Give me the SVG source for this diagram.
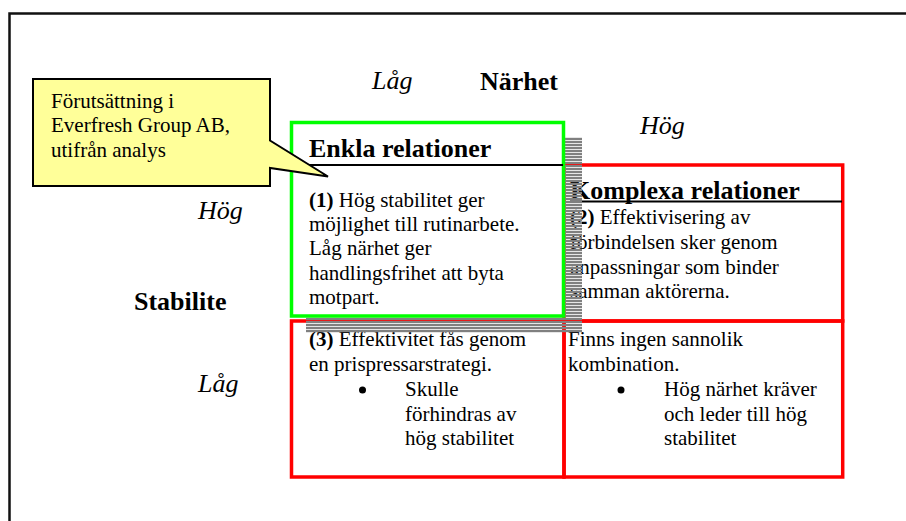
<svg xmlns="http://www.w3.org/2000/svg" width="906" height="521" viewBox="0 0 906 521">
<defs>
<pattern id="stripes" width="4" height="3" patternUnits="userSpaceOnUse"><rect x="0" y="0" width="4" height="2.2" fill="#808080"/></pattern>
<style>
text{font-family:"Liberation Serif","Times New Roman",serif;fill:#000}
.b{font-size:21px}
.h{font-size:26px;font-weight:bold}
.ax{font-size:26px;font-style:italic}
.bold{font-weight:bold}
.red{fill:none;stroke:#ff0000;stroke-width:3.5}
.rule{stroke:#000;stroke-width:1.8}
</style>
</defs>
<rect width="906" height="521" fill="#fff"/>
<g id="frame"><rect x="9.5" y="13.5" width="930" height="540" fill="none" stroke="#111" stroke-width="2.5"/></g>

<g id="axis-labels">
<text class="ax" x="372" y="89">Låg</text>
<text class="h" x="480" y="90">Närhet</text>
<text class="ax" x="640" y="134">Hög</text>
<text class="ax" x="198" y="219">Hög</text>
<text class="h" x="134" y="310">Stabilite</text>
<text class="ax" x="198" y="392">Låg</text>
</g>

<g id="grid">
<rect class="red" x="564" y="165" width="278.7" height="156"/>
<rect class="red" x="291.5" y="321" width="272.5" height="156"/>
<rect class="red" x="564" y="321" width="278.7" height="156"/>
</g>

<g id="cell-complex">
<text class="h" x="570" y="199">Komplexa relationer</text>
<line class="rule" x1="570" y1="201.5" x2="842" y2="201.5"/>
<text class="b" x="570" y="224"><tspan class="bold">(2)</tspan> Effektivisering av</text>
<text class="b" x="570" y="249">förbindelsen sker genom</text>
<text class="b" x="570" y="273.5">anpassningar som binder</text>
<text class="b" x="570" y="298">samman aktörerna.</text>
</g>

<g id="cell-low-low">
<text class="b" x="309" y="346"><tspan class="bold">(3)</tspan> Effektivitet fås genom</text>
<text class="b" x="309" y="370.5">en prispressarstrategi.</text>
<circle cx="362.5" cy="390" r="3.5" fill="#000"/>
<text class="b" x="405" y="396">Skulle</text>
<text class="b" x="405" y="420.5">förhindras av</text>
<text class="b" x="405" y="445">hög stabilitet</text>
</g>

<g id="cell-high-low">
<text class="b" x="568" y="346">Finns ingen sannolik</text>
<text class="b" x="568" y="370.5">kombination.</text>
<circle cx="621" cy="390" r="3.5" fill="#000"/>
<text class="b" x="664" y="396">Hög närhet kräver</text>
<text class="b" x="664" y="420.5">och leder till hög</text>
<text class="b" x="664" y="445">stabilitet</text>
</g>

<g id="cell-simple">
<rect x="306" y="137" width="276" height="196" fill="url(#stripes)"/>
<rect x="291.5" y="122.5" width="272" height="193.5" fill="#fff" stroke="#00ff00" stroke-width="3.5"/>
<text class="h" x="309" y="157">Enkla relationer</text>
<line class="rule" x1="293" y1="165" x2="563" y2="165"/>
<text class="b" x="309" y="207"><tspan class="bold">(1)</tspan> Hög stabilitet ger</text>
<text class="b" x="309" y="231">möjlighet till rutinarbete.</text>
<text class="b" x="309" y="255">Låg närhet ger</text>
<text class="b" x="309" y="279.5">handlingsfrihet att byta</text>
<text class="b" x="309" y="304">motpart.</text>
</g>

<g id="callout">
<path d="M33,79 H270 V140.5 L328,176.5 L270,168 V186 H33 Z" fill="#ffff99" stroke="#000" stroke-width="2"/>
<text class="b" x="51" y="108">Förutsättning i</text>
<text class="b" x="51" y="132">Everfresh Group AB,</text>
<text class="b" x="51" y="156.5">utifrån analys</text>
</g>
</svg>
